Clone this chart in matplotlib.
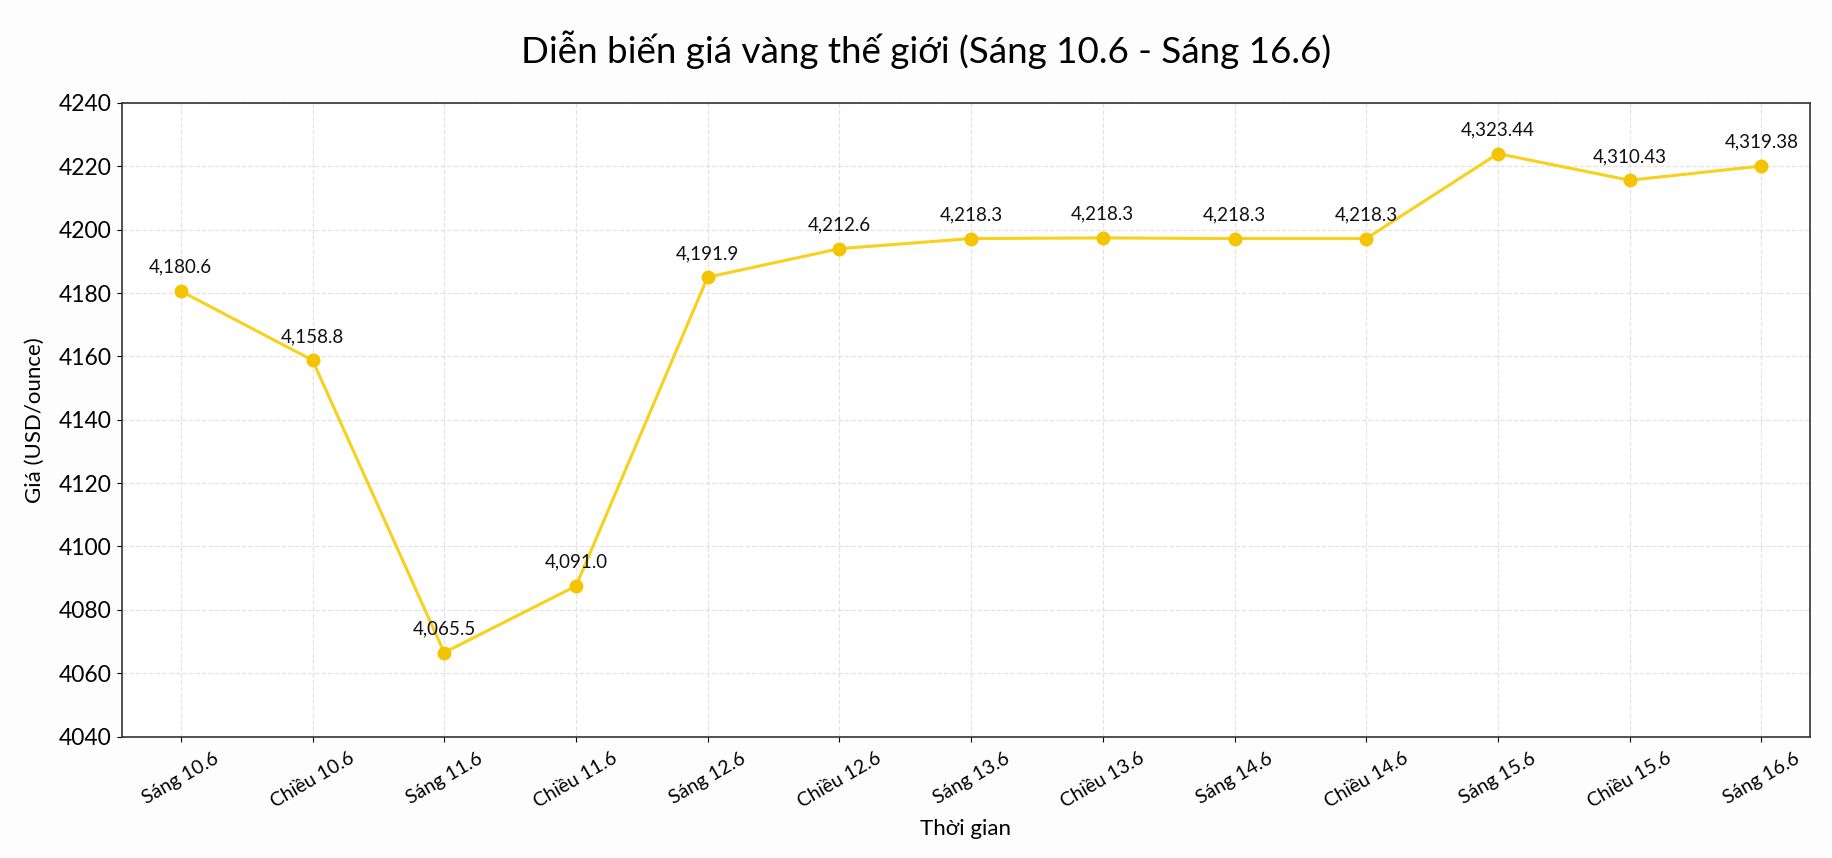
import matplotlib
matplotlib.use("Agg")
import matplotlib.pyplot as plt
import numpy as np

plt.rcParams['font.family'] = ['Lato', 'DejaVu Sans']

# thời điểm
thoi_gian = ["Sáng 10.6", "Chiều 10.6", "Sáng 11.6", "Chiều 11.6", "Sáng 12.6",
             "Chiều 12.6", "Sáng 13.6", "Chiều 13.6", "Sáng 14.6", "Chiều 14.6",
             "Sáng 15.6", "Chiều 15.6", "Sáng 16.6"]
# vị trí điểm trên trục
gia = [4180.6, 4158.8, 4066.5, 4087.5, 4185.0, 4194.0, 4197.2, 4197.4,
       4197.2, 4197.2, 4224.0, 4215.6, 4220.1]
# nhãn hiển thị
nhan = ["4,180.6", "4,158.8", "4,065.5", "4,091.0", "4,191.9", "4,212.6",
        "4,218.3", "4,218.3", "4,218.3", "4,218.3", "4,323.44", "4,310.43",
        "4,319.38"]

fig = plt.figure(figsize=(18.33, 8.58), dpi=100)
fig.patch.set_facecolor('#fdfdfd')
ax = fig.add_axes([0.0663, 0.1416, 0.9212, 0.7384])

x = np.arange(len(thoi_gian))
ax.plot(x, gia, color='#F7D11C', linewidth=2.2, marker='o', markersize=9,
        markerfacecolor='#F5C400', markeredgecolor='#F5C400', zorder=3)

for i, v in enumerate(gia):
    ax.annotate(nhan[i], (x[i], v), xytext=(0, 11), textcoords='offset points',
                ha='center', va='bottom', fontsize=13.5, color='#111111')

ax.set_xlim(-0.45, 12.37)
ax.set_ylim(4040, 4240)
ax.set_yticks(np.arange(4040, 4241, 20))
ax.set_xticks(x)
ax.set_xticklabels(thoi_gian, rotation=30, ha='center', fontsize=14)
ax.tick_params(axis='y', labelsize=16.5)
ax.tick_params(axis='x', pad=6)

ax.grid(True, linestyle='--', color='#e3e3e3', linewidth=0.9)
ax.set_axisbelow(True)
for s in ax.spines.values():
    s.set_color('#333333')
    s.set_linewidth(1.2)

ax.set_xlabel("Thời gian", fontsize=16, labelpad=6)
ax.set_ylabel("Giá (USD/ounce)", fontsize=16, labelpad=10)
fig.suptitle("Diễn biến giá vàng thế giới (Sáng 10.6 - Sáng 16.6)",
             fontsize=26.5, x=0.505, y=0.965)

fig.savefig("out.png", dpi=100, facecolor=fig.get_facecolor())
